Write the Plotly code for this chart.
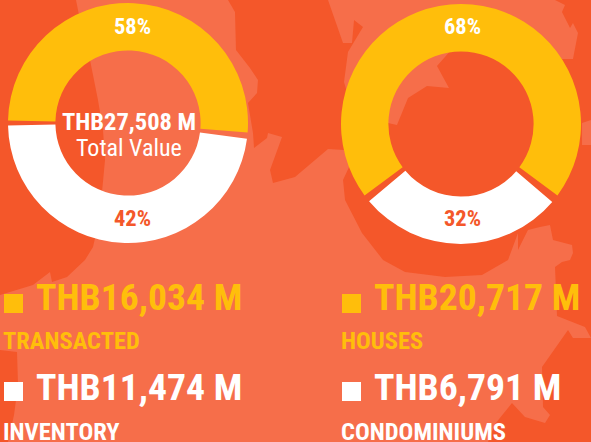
import plotly.graph_objects as go

W, H = 591, 442
DARK, LIGHT, GOLD, WHITE = "#F4572A", "#F66E4A", "#FFBE0B", "#FFFFFF"
FONT = "Roboto Condensed, Archivo Narrow, Barlow Condensed, Roboto"

# arc sizes as drawn in the picture (degrees, incl. small gaps between slices)
left_parts = ["Transacted", "gap a", "Inventory", "gap b"]
left_arcs = [183.3, 3.0, 171.3, 2.4]
right_parts = ["Houses", "gap a", "Condominiums", "gap b"]
right_arcs = [253.0, 4.0, 99.5, 3.5]
left_pct = ["58%", "42%"]
right_pct = ["68%", "32%"]
left_amounts = ["THB16,034 M", "THB11,474 M"]
left_names = ["TRANSACTED", "INVENTORY"]
right_amounts = ["THB20,717 M", "THB6,791 M"]
right_names = ["HOUSES", "CONDOMINIUMS"]
center_value = "THB27,508 M"
center_label = "Total Value"


def px(x):
    return x / W


def py(y):
    return 1 - y / H


def path(points):
    return "M " + " L ".join(f"{px(x):.4f},{py(y):.4f}" for x, y in points) + " Z"


# decorative map silhouette behind the charts
land = [
    (76, 0), (82, 30), (90, 60), (98, 100), (103, 130), (105, 160), (102, 192), (98, 225), (93, 247), (85, 260),
    (67, 277), (52, 282), (50, 272), (33, 285), (0, 295), (0, 350), (17, 352), (18, 385), (14, 415), (8, 442),
    (488, 442), (495, 424), (512, 403), (525, 417), (545, 423), (550, 415), (543, 407), (542, 367), (568, 330),
    (573, 338), (591, 338), (585, 327), (557, 316), (555, 267), (562, 262), (570, 260), (573, 253), (572, 245),
    (553, 240), (550, 225), (540, 227), (528, 230), (518, 250), (518, 233), (508, 260), (482, 275), (445, 277),
    (405, 272), (383, 260), (362, 233), (345, 200), (343, 180), (350, 165), (344, 150), (328, 149), (295, 177),
    (273, 183), (270, 170), (282, 137), (268, 133), (267, 138), (254, 148), (253, 133), (248, 103), (257, 93),
    (258, 80), (250, 68), (236, 50), (235, 12), (228, 0),
]
land2 = [
    (328, 0), (343, 43), (352, 43), (354, 20), (363, 27), (348, 52), (344, 82), (352, 110), (388, 123), (397, 125),
    (408, 98), (427, 86), (449, 88), (437, 66), (460, 40), (540, 40), (562, 59), (573, 59), (578, 33), (573, 23),
    (570, 28), (562, 12), (565, 5), (555, 0),
]
land3 = [(582, 123), (591, 120), (591, 145), (582, 145)]

shapes = [
    dict(type="rect", xref="paper", yref="paper", x0=0, x1=1, y0=0, y1=1, fillcolor=DARK, line_width=0, layer="below"),
]
for poly in (land, land2, land3):
    shapes.append(dict(type="path", xref="paper", yref="paper", path=path(poly), fillcolor=LIGHT, line_width=0, layer="below"))

# legend squares
for x0 in (4, 342):
    for y0, col in ((294, GOLD), (382, WHITE)):
        shapes.append(dict(type="rect", xref="paper", yref="paper", x0=px(x0), x1=px(x0 + 19),
                           y0=py(y0 + 19), y1=py(y0), fillcolor=col, line_width=0))

fig = go.Figure()
SLICE_COLORS = [GOLD, "rgba(0,0,0,0)", WHITE, "rgba(0,0,0,0)"]


def donut(labels, arcs, rotation, cx, cy):
    fig.add_trace(go.Pie(
        labels=labels, values=arcs, sort=False, direction="clockwise", rotation=rotation, hole=0.605,
        marker=dict(colors=SLICE_COLORS, line=dict(width=0)), textinfo="none", showlegend=False,
        hoverinfo="skip", domain=dict(x=[px(cx - 120), px(cx + 120)], y=[py(cy + 120), py(cy - 120)]),
    ))


donut(left_parts, left_arcs, 271.2, 128, 123)
donut(right_parts, right_arcs, 233.5, 461, 124)

annotations = []


def text(x, y, s, size, color, bold=True, anchor="center"):
    annotations.append(dict(xref="paper", yref="paper", x=px(x), y=py(y), text=f"<b>{s}</b>" if bold else s,
                            showarrow=False, xanchor=anchor, yanchor="middle", borderpad=0,
                            font=dict(family=FONT, size=size, color=color)))


text(132, 26, left_pct[0], 22.5, WHITE)
text(132, 218, left_pct[1], 22.5, DARK)
text(462, 26, right_pct[0], 22.5, WHITE)
text(462, 218, right_pct[1], 22.5, DARK)
text(129, 121, center_value, 24.5, WHITE)
text(129, 148, center_label, 24, WHITE, bold=False)

for x_amt, x_name, amounts, names in ((35, 2, left_amounts, left_names), (373, 340, right_amounts, right_names)):
    text(x_amt, 297, amounts[0], 37.7, GOLD, anchor="left")
    text(x_amt, 387, amounts[1], 37.7, WHITE, anchor="left")
    text(x_name, 340, names[0], 24.5, GOLD, anchor="left")
    text(x_name, 431, names[1], 24.5, WHITE, anchor="left")

fig.update_layout(width=W, height=H, autosize=False, margin=dict(l=0, r=0, t=0, b=0),
                  paper_bgcolor=DARK, plot_bgcolor=DARK, shapes=shapes, annotations=annotations)
fig.write_html("out.html", config=dict(displayModeBar=False),
               post_script="document.body.style.margin='0';document.body.style.overflow='hidden';")
